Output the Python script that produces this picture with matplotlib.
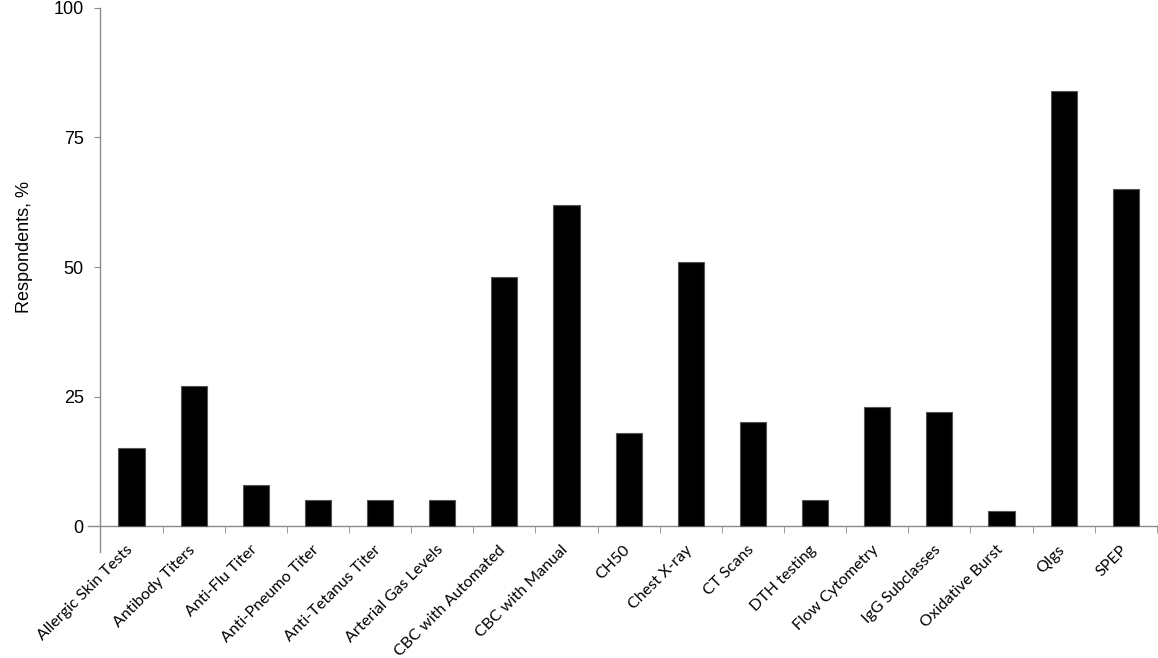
import matplotlib
matplotlib.use("Agg")
import matplotlib.pyplot as plt
import matplotlib.transforms as mtransforms
import numpy as np

tests = [
    "Allergic Skin Tests", "Antibody Titers", "Anti-Flu Titer", "Anti-Pneumo Titer",
    "Anti-Tetanus Titer", "Arterial Gas Levels", "CBC with Automated", "CBC with Manual",
    "CH50", "Chest X-ray", "CT Scans", "DTH testing", "Flow Cytometry",
    "IgG Subclasses", "Oxidative Burst", "QIgs", "SPEP",
]
respondents = [15, 27, 8, 5, 5, 5, 48, 62, 18, 51, 20, 5, 23, 22, 3, 84, 65]
y_ticks = [0, 25, 50, 75, 100]

axis_grey = "#8c8c8c"

fig = plt.figure(figsize=(11.58, 6.58), dpi=100)
ax = fig.add_axes([0.076, 0.161, 0.923, 0.827])

x = np.arange(len(tests))
ax.bar(x, respondents, width=0.42, color="black", edgecolor="#555555", linewidth=0.8, zorder=3)

ax.set_xlim(-0.7, len(tests) - 0.5)
ax.set_ylim(-5, 100)

for s in ["top", "right"]:
    ax.spines[s].set_visible(False)
ax.spines["left"].set_position(("data", -0.5))
ax.spines["bottom"].set_position(("data", 0))
ax.spines["left"].set_bounds(-5, 100)
for s in ["left", "bottom"]:
    ax.spines[s].set_color(axis_grey)
    ax.spines[s].set_linewidth(1.0)

ax.set_yticks(y_ticks)
ax.set_yticklabels([str(v) for v in y_ticks], fontsize=13, family="Liberation Sans")
ax.tick_params(axis="y", length=4, color=axis_grey, pad=8)

ax.set_xticks(x)
ax.set_xticklabels(tests, rotation=45, ha="right", rotation_mode="anchor",
                   fontsize=11.5, family="Lato")
ax.tick_params(axis="x", which="major", length=0, pad=12)
ax.set_xticks(np.arange(len(tests) + 1) - 0.5, minor=True)
ax.tick_params(axis="x", which="minor", length=5, color=axis_grey, direction="out")

# shift the rotated labels a little to the left, as in the original
shift = mtransforms.ScaledTranslation(-6 / 100, 0, fig.dpi_scale_trans)
for lbl in ax.get_xticklabels():
    lbl.set_transform(lbl.get_transform() + shift)

ax.set_ylabel("Respondents, %", fontsize=13, family="Liberation Sans")
ax.yaxis.set_label_coords(-0.051, 0.56)

fig.savefig("out.png", dpi=100)
